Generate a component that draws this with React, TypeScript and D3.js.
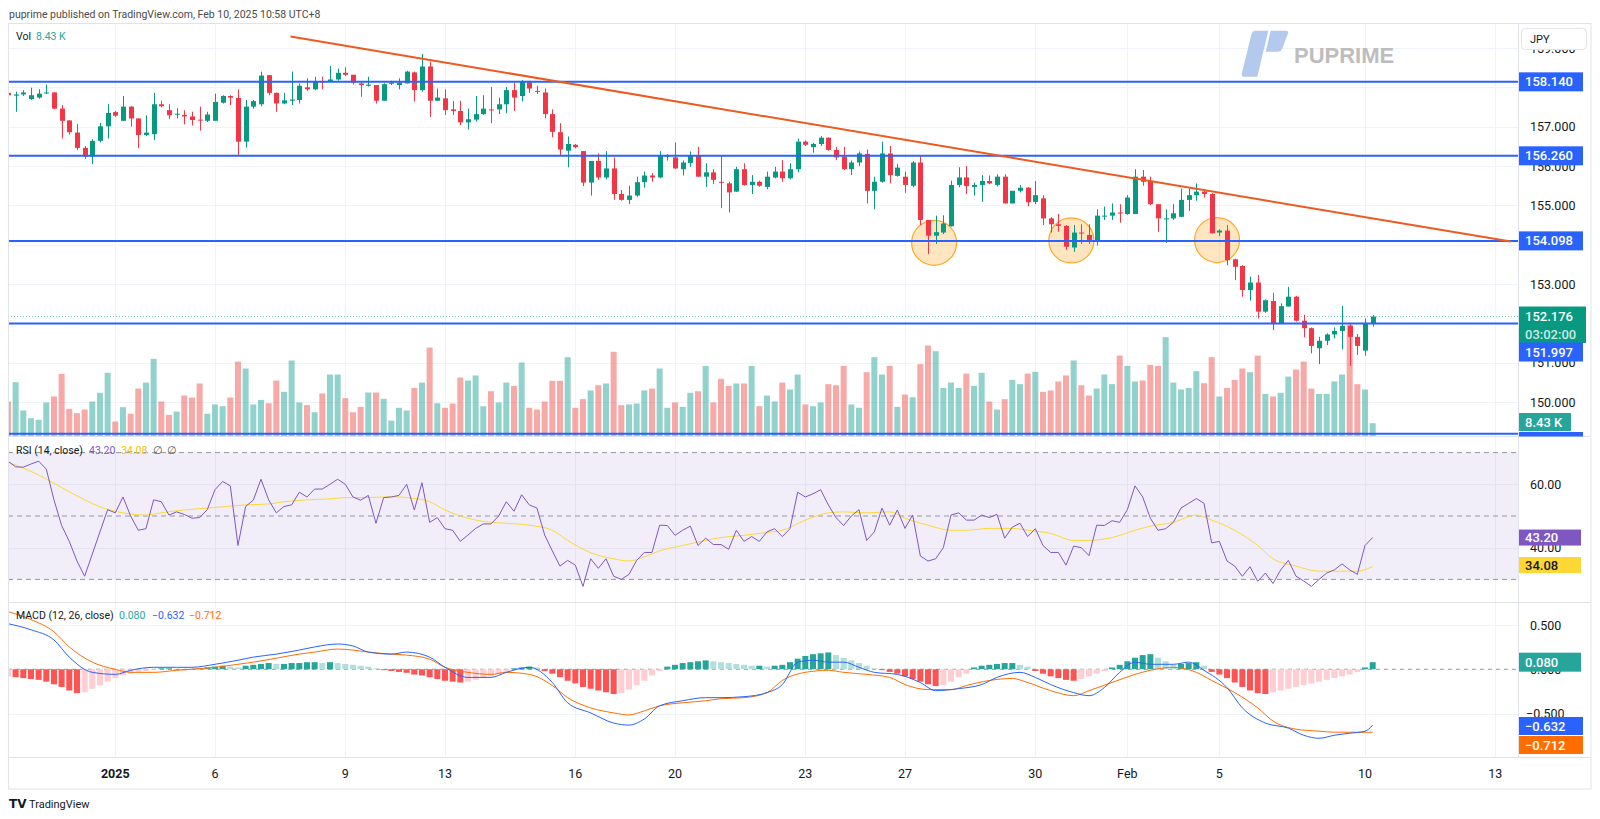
import React from "react";
import * as d3 from "d3";

// ---------- DATA (4h USDJPY candles) ----------
const opens = [157.86,157.79,157.82,157.70,157.74,157.86,157.87,157.46,157.16,156.85,156.46,156.24,156.64,157.01,157.37,157.15,157.51,157.21,156.79,156.81,157.57,157.42,157.31,157.30,157.26,157.18,157.15,157.15,157.61,157.78,157.73,156.62,157.51,157.57,158.31,157.86,157.59,157.66,157.68,158.00,157.95,158.15,158.14,158.20,158.37,158.32,158.10,158.04,158.06,157.66,158.09,158.06,158.10,158.38,157.93,158.53,157.66,157.72,157.44,157.40,157.11,157.18,157.32,157.44,157.44,157.57,157.93,157.78,158.13,157.91,157.87,157.32,156.86,156.39,156.54,156.38,155.58,156.13,155.71,155.94,155.29,155.14,155.25,155.59,155.76,155.71,156.24,156.22,155.92,156.08,156.28,155.73,155.84,155.60,155.56,155.35,155.92,155.52,155.60,155.47,155.71,155.86,155.69,155.92,156.62,156.48,156.56,156.72,156.41,156.24,155.92,156.09,156.31,155.37,155.60,156.32,155.75,155.73,155.50,156.09,154.63,154.23,154.31,154.47,155.52,155.71,155.47,155.52,155.62,155.52,155.73,155.05,155.37,155.45,155.09,155.18,154.67,154.52,154.48,153.93,154.31,154.25,154.12,154.73,154.74,154.82,154.78,154.78,155.73,155.63,155.03,154.65,154.67,154.71,155.14,155.26,155.35,155.29,154.31,154.36,153.63,153.46,152.85,153.04,152.30,152.57,152.00,152.43,152.68,152.07,151.88,151.37,151.56,151.72,151.81,151.94,151.66,151.31,152.00];
const highs = [157.87,157.89,157.93,157.99,157.95,158.07,157.88,157.55,157.16,157.07,156.51,156.68,157.10,157.57,157.40,157.78,157.52,157.21,157.29,157.86,157.66,157.57,157.47,157.42,157.38,157.51,157.38,157.84,157.80,157.80,157.95,157.68,157.68,158.40,158.31,157.87,157.86,158.40,158.10,158.23,158.27,158.27,158.54,158.48,158.51,158.32,158.14,158.27,158.06,158.10,158.17,158.23,158.42,158.40,158.85,158.65,157.97,157.95,157.65,157.66,157.46,157.78,157.80,158.01,157.74,158.01,158.12,158.19,158.17,158.04,157.97,157.44,157.09,156.75,156.56,156.38,156.13,156.32,156.38,156.22,155.39,155.50,155.73,155.86,155.82,156.38,156.30,156.60,156.14,156.37,156.49,156.07,155.92,156.26,155.60,155.98,156.07,155.77,155.63,155.86,155.98,156.15,156.07,156.70,156.65,156.59,156.76,156.73,156.49,156.49,156.14,156.37,156.42,155.73,156.62,156.51,156.05,155.86,156.13,156.26,154.63,154.74,154.75,155.63,155.97,156.00,155.58,155.77,155.76,155.79,155.79,155.37,155.52,155.47,155.62,155.26,154.70,154.78,154.50,154.50,154.52,154.52,154.90,154.97,155.05,155.03,155.26,155.92,155.90,155.73,155.03,154.90,155.03,155.43,155.43,155.56,155.41,155.31,154.39,154.50,153.65,153.48,153.19,153.23,152.61,152.78,152.51,152.93,152.70,152.22,151.90,151.66,151.75,151.90,152.44,152.02,151.73,152.13,152.21];
const lows = [157.79,157.38,157.78,157.68,157.71,157.83,157.45,156.70,156.80,156.40,156.18,156.05,156.60,156.70,157.25,157.15,157.00,156.46,156.76,156.66,157.49,157.19,157.21,157.06,157.03,156.90,157.12,157.15,157.59,157.55,156.26,156.47,157.46,157.52,157.80,157.38,157.57,157.55,157.59,157.91,157.93,157.95,158.14,158.17,158.29,158.07,157.76,158.02,157.59,157.66,158.06,157.95,158.10,157.64,157.89,157.25,157.66,157.30,157.30,157.04,156.93,157.13,157.30,157.09,157.32,157.34,157.40,157.64,157.86,157.83,157.21,156.73,156.28,155.97,156.45,155.49,155.25,155.65,155.66,155.14,155.12,155.03,155.22,155.45,155.60,155.69,156.14,155.92,155.76,155.98,155.73,155.47,155.54,154.93,154.82,155.35,155.50,155.29,155.47,155.41,155.69,155.60,155.66,155.84,156.51,156.34,156.51,156.39,156.15,155.90,155.77,156.00,155.05,154.90,155.58,155.56,155.73,155.32,155.46,154.50,153.76,154.02,154.27,154.46,155.46,155.29,155.25,155.09,155.54,155.48,155.05,155.05,155.33,154.98,155.03,154.50,154.31,154.33,153.87,153.82,154.02,154.02,153.98,154.63,154.63,154.56,154.76,154.78,155.50,155.01,154.33,154.05,154.63,154.71,154.86,155.12,155.20,154.29,154.22,153.48,153.10,152.68,152.58,152.13,152.27,151.83,151.98,152.43,152.05,151.65,151.24,150.97,151.45,151.62,151.34,150.92,151.20,151.18,151.92];
const closes = [157.80,157.82,157.87,157.80,157.84,157.87,157.46,157.15,156.86,156.46,156.24,156.64,157.01,157.35,157.28,157.51,157.21,156.79,156.85,157.57,157.52,157.29,157.33,157.26,157.17,157.17,157.31,157.63,157.78,157.74,156.62,157.51,157.65,158.30,157.86,157.59,157.67,157.69,158.04,157.95,158.14,158.14,158.20,158.37,158.32,158.12,158.06,158.07,157.66,158.08,158.12,158.12,158.40,157.93,158.53,157.66,157.74,157.42,157.40,157.11,157.19,157.32,157.46,157.43,157.57,157.93,157.74,158.14,157.97,157.90,157.32,156.87,156.42,156.56,156.48,155.58,156.13,155.71,155.94,155.29,155.14,155.25,155.59,155.76,155.71,156.26,156.26,155.94,156.09,156.28,155.73,155.84,155.65,155.59,155.33,155.92,155.52,155.60,155.50,155.73,155.86,155.69,155.92,156.62,156.54,156.56,156.72,156.41,156.22,155.92,156.09,156.32,155.37,155.60,156.32,155.77,155.96,155.52,156.09,154.63,154.23,154.32,154.54,155.52,155.71,155.49,155.52,155.62,155.56,155.73,155.05,155.37,155.45,155.08,155.26,154.67,154.52,154.48,153.95,154.31,154.29,154.12,154.74,154.74,154.82,154.80,155.20,155.73,155.60,155.03,154.67,154.67,154.80,155.14,155.26,155.35,155.29,154.29,154.36,153.61,153.44,152.85,153.04,152.30,152.59,152.00,152.44,152.68,152.07,151.88,151.43,151.56,151.72,151.81,151.94,151.66,151.43,152.00,152.176];
// volume in thousands
const volumes = [22.2,34.4,16.5,11.6,10.6,21.6,25.4,39.7,17.5,14.8,17.1,22.2,27.7,40.4,9.5,18.6,14.4,30.4,34.2,49.2,22.2,13.7,15.8,26.0,24.7,33.6,14.4,20.3,19.2,24.7,47.5,43.1,20.3,23.2,21.1,35.5,28.3,48.2,21.6,19.9,15.4,27.3,39.3,39.3,24.3,15.4,18.8,27.9,27.9,23.9,10.1,18.2,16.5,30.8,34.2,56.4,21.1,18.2,20.9,37.4,35.5,38.7,19.2,28.7,21.6,34.2,32.1,46.9,18.2,17.1,22.2,35.3,35.3,50.3,18.2,23.7,29.2,32.5,33.6,53.7,19.9,20.3,20.9,29.2,30.4,43.1,18.2,21.6,18.8,27.7,28.7,44.8,21.6,36.6,32.1,33.6,33.6,44.8,19.2,26.0,22.2,34.2,29.8,39.3,20.3,19.2,21.6,33.2,32.5,44.8,20.3,18.2,40.8,50.3,39.3,44.8,18.8,26.6,24.9,45.9,57.7,54.1,30.8,34.2,30.8,39.9,32.1,40.4,22.2,17.1,23.7,35.9,33.2,39.9,41.0,28.3,29.2,34.9,38.7,48.2,32.5,26.0,30.4,39.3,33.2,51.3,44.8,34.9,35.5,45.4,44.8,63.0,34.2,29.8,30.8,41.4,33.8,50.3,25.4,30.8,35.9,43.1,40.8,51.3,27.0,25.4,27.7,38.0,42.5,47.5,30.4,27.0,27.0,34.9,39.3,70.8,33.2,29.8,8.43];
// RSI(14) per bar
const rsiValues = [67.3,65.5,65.4,66.4,67.3,64.8,55.1,47.0,42.0,35.8,31.0,38.0,45.0,52.0,51.0,56.0,50.0,45.5,46.0,55.1,54.5,50.3,51.3,50.5,49.3,49.5,52.0,58.3,60.9,59.5,40.7,53.0,55.0,61.6,55.1,51.0,53.0,53.5,57.5,56.0,58.5,58.5,60.0,61.6,60.0,56.0,55.0,56.5,47.7,55.8,56.0,56.5,60.0,51.9,60.5,48.0,49.5,46.0,45.5,42.0,44.0,46.1,47.5,47.5,50.0,54.5,51.5,56.7,53.5,52.5,44.0,39.0,34.2,36.0,34.5,27.8,36.5,33.5,36.5,31.0,30.0,31.6,36.0,38.5,38.5,47.1,47.0,43.9,45.5,46.8,40.7,43.0,41.0,41.0,39.5,45.5,42.0,43.5,42.0,45.0,46.0,43.5,46.0,57.5,56.0,57.0,58.3,53.5,49.5,47.0,50.0,52.0,42.3,45.0,52.5,47.1,51.9,46.1,50.3,37.4,35.8,36.5,40.0,50.3,51.0,48.7,48.7,50.3,49.5,50.5,43.0,46.5,47.7,43.5,46.0,40.7,38.5,38.5,34.5,40.5,40.0,37.5,47.1,47.0,48.5,48.0,52.0,59.5,56.0,49.3,45.5,46.0,48.0,52.5,54.0,55.5,54.0,41.5,42.0,35.8,34.2,31.0,34.0,29.4,32.0,28.7,33.0,36.0,31.0,29.5,27.8,30.0,32.0,33.0,34.9,33.0,31.6,40.7,43.2];
// RSI-based MA, read at its turning points (bar index, value)
const rsiMaBars = [0,3,7,10,12,15,18,20,23,26,28,31,34,36,39,42,44,47,50,52,55,57,60,63,65,68,71,73,76,79,81,83,85,88,91,93,96,99,101,104,107,109,112,115,117,120,123,125,128,131,133,136,139,141,144,147,149,152,155,157,160,163,165,168,171,173,176,178];
const rsiMaVals = [67.0,64.1,59.0,55.1,52.9,51.0,50.3,51.0,51.9,52.5,52.9,53.5,53.8,54.5,55.1,55.4,55.8,55.8,56.1,55.8,54.5,51.9,49.3,48.0,47.7,47.1,45.5,42.3,38.4,36.5,35.8,37.1,39.0,40.7,42.3,43.2,43.9,44.8,45.5,48.7,51.0,51.3,51.0,51.3,49.3,47.1,45.5,45.5,46.1,46.1,45.5,44.5,42.3,42.3,43.2,45.5,46.8,48.0,50.3,48.7,45.5,40.7,36.5,34.2,32.6,32.6,32.6,34.08];
// MACD(12,26) line and signal, read at their turning points
const macdBars = [0,3,6,8,11,14,16,19,22,24,27,30,32,35,38,40,43,45,47,50,52,55,57,60,63,65,68,71,73,76,79,81,83,85,88,91,93,96,99,101,103,105,107,109,111,113,116,119,121,124,127,129,132,134,136,139,141,143,145,147,149,152,154,156,159,161,164,167,169,171,173,175,177,178];
const macdVals = [0.515,0.446,0.331,0.137,-0.035,-0.058,-0.012,0.022,0.022,0.022,0.056,0.102,0.137,0.171,0.217,0.252,0.285,0.263,0.194,0.171,0.194,0.137,0.022,-0.092,-0.092,-0.035,0.022,-0.150,-0.379,-0.493,-0.608,-0.631,-0.562,-0.413,-0.356,-0.321,-0.321,-0.310,-0.264,-0.173,0.080,0.102,0.080,0.080,0.022,-0.035,-0.058,-0.150,-0.242,-0.219,-0.173,-0.092,-0.035,-0.092,-0.173,-0.264,-0.299,-0.207,-0.035,0.080,0.056,0.056,0.080,-0.012,-0.207,-0.436,-0.608,-0.665,-0.746,-0.780,-0.746,-0.723,-0.700,-0.632];
const signalBars = [0,3,6,8,11,14,16,19,22,24,27,30,32,35,38,40,43,45,47,50,52,55,57,60,63,65,68,71,73,76,79,81,83,85,88,91,93,96,99,101,104,107,109,112,115,117,120,123,125,128,131,133,136,139,141,144,147,149,152,155,157,160,163,165,168,171,173,176,178];
const signalVals = [0.652,0.561,0.423,0.252,0.080,-0.001,-0.035,-0.035,-0.012,0.0,0.022,0.056,0.080,0.125,0.171,0.194,0.228,0.217,0.194,0.171,0.160,0.114,0.022,-0.035,-0.058,-0.035,-0.058,-0.184,-0.321,-0.436,-0.493,-0.516,-0.470,-0.413,-0.379,-0.356,-0.333,-0.321,-0.264,-0.127,-0.035,-0.012,-0.035,-0.058,-0.092,-0.173,-0.230,-0.230,-0.184,-0.127,-0.104,-0.150,-0.242,-0.299,-0.242,-0.150,-0.058,-0.012,0.022,-0.035,-0.127,-0.264,-0.436,-0.585,-0.677,-0.700,-0.711,-0.712,-0.712];
const histogram = [-0.08,-0.09,-0.10,-0.11,-0.12,-0.14,-0.17,-0.20,-0.24,-0.27,-0.26,-0.22,-0.18,-0.14,-0.10,-0.07,-0.05,-0.03,-0.02,-0.01,0.01,0.01,-0.005,-0.01,0.005,0.01,0.02,0.03,0.04,0.03,0.02,0.04,0.05,0.06,0.07,0.06,0.06,0.07,0.07,0.08,0.08,0.07,0.08,0.07,0.06,0.05,0.04,0.03,0.01,-0.01,-0.02,-0.03,-0.04,-0.06,-0.07,-0.09,-0.11,-0.13,-0.14,-0.15,-0.14,-0.12,-0.10,-0.08,-0.06,-0.03,0.01,0.02,0.03,0.02,-0.02,-0.05,-0.09,-0.13,-0.16,-0.20,-0.22,-0.24,-0.26,-0.28,-0.27,-0.23,-0.18,-0.13,-0.07,-0.02,0.03,0.05,0.07,0.08,0.09,0.10,0.09,0.08,0.07,0.06,0.05,0.04,0.04,0.03,0.04,0.05,0.08,0.12,0.15,0.17,0.18,0.19,0.16,0.13,0.10,0.07,0.04,0.01,-0.01,-0.03,-0.05,-0.08,-0.11,-0.14,-0.17,-0.19,-0.18,-0.14,-0.09,-0.05,0.02,0.04,0.05,0.06,0.07,0.07,0.05,0.03,-0.02,-0.05,-0.08,-0.10,-0.12,-0.13,-0.11,-0.08,-0.05,-0.02,0.02,0.05,0.09,0.13,0.16,0.17,0.13,0.09,0.05,0.06,0.07,0.08,0.04,-0.03,-0.06,-0.10,-0.15,-0.20,-0.24,-0.27,-0.28,-0.26,-0.24,-0.22,-0.20,-0.18,-0.16,-0.14,-0.12,-0.10,-0.08,-0.06,-0.03,0.02,0.08];

// drawings
const levelPrices = [158.14, 156.26, 154.098, 151.997];
const levelTexts = ["158.140", "156.260", "154.098", "151.997"];
const bottomLevelPrice = 149.2;
const trendBars = [36.85, 196];
const trendPrices = [159.29, 154.08];
const circleBars = [120.8, 138.7, 157.7];
const circlePrices = [154.05, 154.11, 154.12];
const lastPrice = 152.176;

// axes (ticks fully hidden under the level labels are left out, as in the picture)
const dateTickBars = [14, 27, 44, 57, 74, 87, 104, 117, 134, 146, 158, 177, 194];
const dateTickLabels = ["2025", "6", "9", "13", "16", "20", "23", "27", "30", "Feb", "5", "10", "13"];
const priceGrid = [150, 151, 152, 153, 154, 155, 156, 157, 158, 159];
const priceTicks = [150, 151, 153, 155, 156, 157, 159];
const rsiTicks = [60, 40];
const rsiBands = [70, 50, 30];
const macdTicks = [0.5, 0, -0.5];

const UP = "#089981";
const DOWN = "#f23645";
const FONT = "Roboto, 'Liberation Sans', Arial, sans-serif";

export default function App() {
  const L = 8, R = 1518, AXR = 1591;
  const mainTop = 23, mainBot = 436.5, rsiBot = 602.5, macdBot = 757.5, frameBot = 789;
  const step = 7.667;
  const x = d3.scaleLinear().domain([0, 178]).range([7.96, 7.96 + step * 178]);
  const y = d3.scaleLinear().domain([150, 157]).range([402.15, 126.7]);
  const yv = d3.scaleLinear().domain([0, 100]).range([436.5, 278.8]);
  const yr = d3.scaleLinear().domain([30, 70]).range([579.4, 452.6]);
  const ym = d3.scaleLinear().domain([-0.5, 0.5]).range([713.5, 625]);

  const rsiLine = d3.line<number>().x((_, i) => x(i)).y((d) => yr(d));
  const maPts = rsiMaBars.map((b, i) => [b, rsiMaVals[i]] as [number, number]);
  const macdPts = macdBars.map((b, i) => [b, macdVals[i]] as [number, number]);
  const sigPts = signalBars.map((b, i) => [b, signalVals[i]] as [number, number]);
  const maPath = d3.line<[number, number]>().curve(d3.curveMonotoneX).x((d) => x(d[0])).y((d) => yr(d[1]))(maPts);
  const macdPath = d3.line<[number, number]>().curve(d3.curveMonotoneX).x((d) => x(d[0])).y((d) => ym(d[1]))(macdPts);
  const sigPath = d3.line<[number, number]>().curve(d3.curveMonotoneX).x((d) => x(d[0])).y((d) => ym(d[1]))(sigPts);

  const histColor = (i: number) => {
    const v = histogram[i];
    const p = i > 0 ? histogram[i - 1] : v;
    if (v >= 0) return v >= p ? "#26a69a" : "#b2dfdb";
    return v < p ? "#ff5252" : "#ffcdd2";
  };

  const gridC = "#f0f3fa";
  const label = (yc: number, text: string, bg: string, fg: string, w = 64, h = 19) => (
    <g key={text + yc}>
      <rect x={1519} y={yc - h / 2} width={w} height={h} fill={bg} />
      <text x={1519 + 6} y={yc + 4.5} fill={fg} fontSize={13} fontFamily={FONT} fontWeight={500}>{text}</text>
    </g>
  );

  return (
    <svg width={1600} height={819} style={{ position: "fixed", left: 0, top: 0, background: "#fff" }}>
      <defs>
        <clipPath id="cMain"><rect x={L} y={mainTop} width={R - L} height={mainBot - mainTop} /></clipPath>
        <clipPath id="cRsi"><rect x={L} y={mainBot} width={R - L} height={rsiBot - mainBot} /></clipPath>
        <clipPath id="cMacd"><rect x={L} y={rsiBot} width={R - L} height={macdBot - rsiBot} /></clipPath>
      </defs>
      <rect x={0} y={0} width={1600} height={819} fill="#fff" />
      <text x={9} y={18} fontSize={10.5} fontFamily={FONT} fill="#4a4a4a">puprime published on TradingView.com, Feb 10, 2025 10:58 UTC+8</text>

      {/* grid */}
      {dateTickBars.map((b, i) => x(b) < R && (
        <line key={"vg" + i} x1={Math.round(x(b)) + 0.5} x2={Math.round(x(b)) + 0.5} y1={mainTop} y2={macdBot} stroke={gridC} />
      ))}
      <g clipPath="url(#cMain)">
        {priceGrid.map((p) => (
          <line key={"hg" + p} x1={L} x2={R} y1={Math.round(y(p)) + 0.5} y2={Math.round(y(p)) + 0.5} stroke={gridC} />
        ))}
      </g>
      {rsiTicks.map((t) => <line key={"rg" + t} x1={L} x2={R} y1={Math.round(yr(t)) + 0.5} y2={Math.round(yr(t)) + 0.5} stroke={gridC} />)}
      {[0.5, -0.5].map((t) => <line key={"mg" + t} x1={L} x2={R} y1={Math.round(ym(t)) + 0.5} y2={Math.round(ym(t)) + 0.5} stroke={gridC} />)}

      {/* watermark logo */}
      <g>
        <path d="M1255.5,30.7 L1268.3,30.7 L1257.3,76.7 L1244,76.7 Q1241,76.7 1241.8,73.5 L1251.5,34 Q1252.5,30.7 1255.5,30.7 Z" fill="#b3c9ee" />
        <path d="M1270.7,30.7 L1286,30.7 Q1289,30.7 1288,33.5 L1282,49 Q1281,51.7 1278,51.7 L1265.7,51.7 Z" fill="#b3c9ee" />
        <text x={1294} y={62.7} fontSize={22} fontWeight={700} fontFamily="'Liberation Sans', Arial, sans-serif" fill="#bdbdbd">PUPRIME</text>
      </g>

      {/* main pane */}
      <g clipPath="url(#cMain)">
        {volumes.map((v, i) => (
          <rect key={"v" + i} x={x(i) - 3} width={6} y={yv(v)} height={yv(0) - yv(v)}
            fill={closes[i] >= opens[i] ? "rgba(38,166,154,0.5)" : "rgba(239,83,80,0.5)"} />
        ))}
        {circleBars.map((b, i) => (
          <circle key={"c" + i} cx={x(b)} cy={y(circlePrices[i])} r={22.5} fill="rgba(255,183,77,0.35)" stroke="#ffa726" strokeWidth={1.2} />
        ))}
        <line x1={L} x2={R} y1={y(lastPrice)} y2={y(lastPrice)} stroke={UP} strokeDasharray="1,2" strokeOpacity={0.6} />
        {opens.map((o, i) => {
          const c = closes[i];
          const col = c >= o ? UP : DOWN;
          const xc = Math.round(x(i));
          const top = y(Math.max(o, c));
          const bh = Math.max(1, y(Math.min(o, c)) - top);
          return (
            <g key={"k" + i}>
              <line x1={xc + 0.5} x2={xc + 0.5} y1={y(highs[i])} y2={y(lows[i])} stroke={col} strokeWidth={1} />
              <rect x={xc - 2} y={top} width={5} height={bh} fill={col} />
            </g>
          );
        })}
        {levelPrices.map((p, i) => (
          <line key={"lv" + i} x1={L} x2={R} y1={y(p)} y2={y(p)} stroke="#2962ff" strokeWidth={2} />
        ))}
        <line x1={L} x2={R} y1={y(bottomLevelPrice)} y2={y(bottomLevelPrice)} stroke="#2962ff" strokeWidth={2} />
        <line x1={x(trendBars[0])} y1={y(trendPrices[0])} x2={x(trendBars[1])} y2={y(trendPrices[1])} stroke="#ee5a1e" strokeWidth={2} />
      </g>
      <text y={40} fontSize={10.5} fontFamily={FONT}>
        <tspan x={16} fill="#131722">Vol</tspan>
        <tspan x={36} fill="#26a69a">8.43 K</tspan>
      </text>

      {/* RSI pane */}
      <g clipPath="url(#cRsi)">
        <rect x={L} y={yr(70)} width={R - L} height={yr(30) - yr(70)} fill="rgba(126,87,194,0.1)" />
        {rsiBands.map((b) => (
          <line key={"rb" + b} x1={L} x2={R} y1={yr(b)} y2={yr(b)} stroke="#9598a1" strokeDasharray="5,4" />
        ))}
        <path d={maPath || ""} fill="none" stroke="#fdd835" strokeWidth={1} />
        <path d={rsiLine(rsiValues) || ""} fill="none" stroke="#7e57c2" strokeWidth={1} />
      </g>
      <text y={454} fontSize={10.5} fontFamily={FONT}>
        <tspan x={16} fill="#131722">RSI (14, close)</tspan>
        <tspan x={89} fill="#7e57c2">43.20</tspan>
        <tspan x={121} fill="#f2c200">34.08</tspan>
        <tspan x={153} fill="#555">∅</tspan>
        <tspan x={167} fill="#555">∅</tspan>
      </text>

      {/* MACD pane */}
      <g clipPath="url(#cMacd)">
        <line x1={L} x2={R} y1={ym(0)} y2={ym(0)} stroke="#9598a1" strokeDasharray="4,4" />
        {histogram.map((h, i) => (
          <rect key={"h" + i} x={x(i) - 3} width={6} y={Math.min(ym(h), ym(0))} height={Math.max(0.5, Math.abs(ym(h) - ym(0)))} fill={histColor(i)} />
        ))}
        <path d={sigPath || ""} fill="none" stroke="#ff6d00" strokeWidth={1} />
        <path d={macdPath || ""} fill="none" stroke="#2962ff" strokeWidth={1} />
      </g>
      <text y={619} fontSize={10.5} fontFamily={FONT}>
        <tspan x={16} fill="#131722">MACD (12, 26, close)</tspan>
        <tspan x={119} fill="#26a69a">0.080</tspan>
        <tspan x={152} fill="#2962ff">−0.632</tspan>
        <tspan x={189} fill="#ff6d00">−0.712</tspan>
      </text>

      {/* frame & separators */}
      <rect x={8.5} y={23.5} width={AXR - 8.5} height={frameBot - 23.5} fill="none" stroke="#e0e3eb" />
      <line x1={R + 0.5} x2={R + 0.5} y1={23} y2={macdBot} stroke="#e0e3eb" />
      <line x1={8} x2={AXR} y1={mainBot} y2={mainBot} stroke="#e0e3eb" />
      <line x1={8} x2={AXR} y1={rsiBot} y2={rsiBot} stroke="#e0e3eb" />
      <line x1={8} x2={AXR} y1={macdBot} y2={macdBot} stroke="#e0e3eb" />

      {/* price axis ticks */}
      {priceTicks.map((p) => (
        <text key={"pt" + p} x={1530} y={y(p) + 4.5} fontSize={12.5} fontFamily={FONT} fill="#131722">{p.toFixed(3)}</text>
      ))}
      {rsiTicks.map((t) => (
        <text key={"rt" + t} x={1530} y={yr(t) + 4.5} fontSize={12.5} fontFamily={FONT} fill="#131722">{t.toFixed(2)}</text>
      ))}
      {macdTicks.map((t) => (
        <text key={"mt" + t} x={t < 0 ? 1526 : 1530} y={ym(t) + 4.5} fontSize={12.5} fontFamily={FONT} fill="#131722">{(t < 0 ? "−" : "") + Math.abs(t).toFixed(3)}</text>
      ))}

      {/* price axis labels */}
      <rect x={1521.5} y={28.5} width={65} height={21} rx={4} fill="#fff" stroke="#e0e3eb" />
      <text x={1530} y={43} fontSize={11} fontFamily={FONT} fill="#131722">JPY</text>
      {label(y(levelPrices[0]), levelTexts[0], "#2962ff", "#fff")}
      {label(y(levelPrices[1]), levelTexts[1], "#2962ff", "#fff")}
      {label(y(levelPrices[2]), levelTexts[2], "#2962ff", "#fff")}
      <g>
        <rect x={1519} y={y(lastPrice) - 10} width={67} height={36.5} fill={UP} />
        <text x={1525} y={y(lastPrice) + 4.5} fontSize={13} fontFamily={FONT} fontWeight={500} fill="#fff">152.176</text>
        <text x={1525} y={y(lastPrice) + 22} fontSize={13} fontFamily={FONT} fontWeight={500} fill="rgba(255,255,255,0.8)">03:02:00</text>
      </g>
      {label(352, levelTexts[3], "#2962ff", "#fff")}
      <rect x={1519} y={432} width={64} height={4.5} fill="#2962ff" />
      {label(422, "8.43 K", "#26a69a", "#fff", 52, 18)}
      {label(yr(43.2), "43.20", "#7e57c2", "#fff", 62, 16)}
      {label(565, "34.08", "#fdd835", "#131722", 62, 16)}
      {label(ym(0.08), "0.080", "#26a69a", "#fff", 62, 19)}
      {label(726, "−0.632", "#2962ff", "#fff", 64, 18)}
      {label(745, "−0.712", "#ff6d00", "#fff", 64, 18)}

      {/* time axis */}
      {dateTickBars.map((b, i) => (
        <text key={"dt" + i} x={x(b)} y={778} textAnchor="middle" fontSize={12.5} fontFamily={FONT}
          fill="#131722" fontWeight={dateTickLabels[i] === "2025" ? 700 : 400}>{dateTickLabels[i]}</text>
      ))}

      {/* footer */}
      <text x={9} y={808} fontSize={12} fontWeight={900} fontFamily="'DejaVu Sans', sans-serif" fill="#131722">TV</text>
      <text x={29} y={808} fontSize={11} fontFamily={FONT} fill="#131722">TradingView</text>
    </svg>
  );
}
